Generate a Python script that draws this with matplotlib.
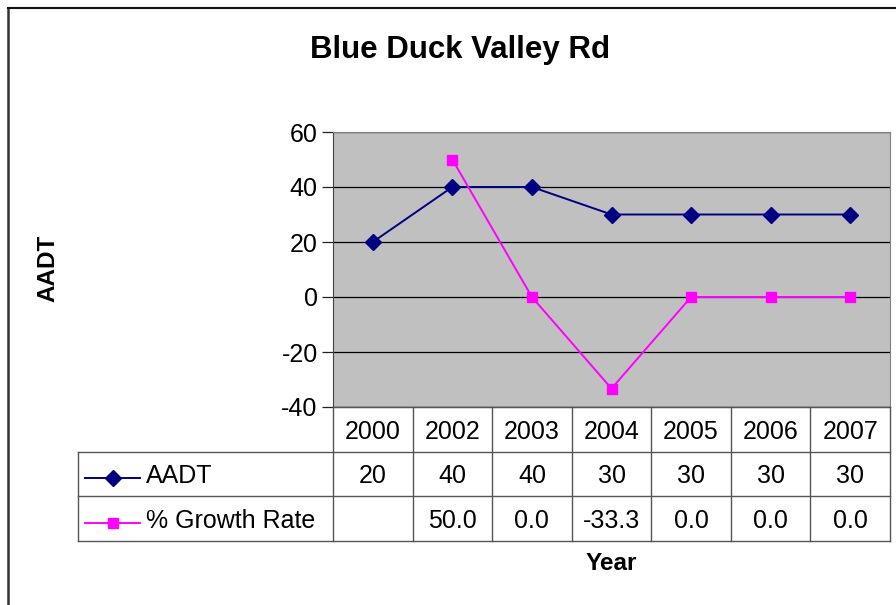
import numpy as np
import matplotlib
matplotlib.use('Agg')
import matplotlib.pyplot as plt
from matplotlib.lines import Line2D

plt.rcParams['font.family'] = ['Liberation Sans', 'DejaVu Sans']
plt.rcParams['axes.unicode_minus'] = False

years = ['2000', '2002', '2003', '2004', '2005', '2006', '2007']
aadt = [20, 40, 40, 30, 30, 30, 30]
growth = [np.nan, 50.0, 0.0, -33.3, 0.0, 0.0, 0.0]
series_names = ['AADT', '% Growth Rate']

W, H = 896, 605
fig = plt.figure(figsize=(W / 100, H / 100), dpi=100)
fig.patch.set_facecolor('white')

def fx(px):
    return px / W

def fy(py):
    return 1 - py / H

# outer chart border (only left and top visible)
fig.add_artist(Line2D([fx(8), fx(8)], [fy(8), 0], color='#333333', lw=1.8))
fig.add_artist(Line2D([fx(8), 1], [fy(8), fy(8)], color='#111111', lw=1.5))

# ── plot area ─────────────────────────────────────────────────────────────
x0, x1 = 333, 890
ytop, ybot = 132, 407
ax = fig.add_axes([fx(x0), fy(ybot), fx(x1) - fx(x0), fy(ytop) - fy(ybot)])
ax.set_facecolor('#C0C0C0')
x = np.arange(len(years))
ax.set_xlim(-0.5, len(years) - 0.5)
ax.set_ylim(-40, 60)
ax.set_yticks(range(-40, 61, 20))
ax.yaxis.grid(True, color='black', lw=0.9)
ax.set_axisbelow(True)
ax.set_xticks([])
ax.tick_params(axis='y', direction='out', length=8, width=0.9, labelsize=18, pad=3,
               color='#222222')
for s in ['top', 'right']:
    ax.spines[s].set_color('#808080')
ax.spines['left'].set_color('#444444')
ax.spines['bottom'].set_color('#444444')

ax.plot(x, aadt, color='#000080', lw=1.4, marker='D', markersize=8, zorder=3)
ax.plot(x, growth, color='#FF00FF', lw=1.4, marker='s', markersize=7.5, zorder=3)

fig.text(fx(48), fy(268), 'AADT', fontsize=17.5, fontweight='bold',
         rotation=90, ha='center', va='center')
fig.text(fx(460), fy(50), 'Blue Duck Valley Rd', fontsize=22.5, fontweight='bold',
         ha='center', va='center')
fig.text(fx(611), fy(563), 'Year', fontsize=17.5, fontweight='bold',
         ha='center', va='center')

# ── data table ────────────────────────────────────────────────────────────
tl, tt, tb = 78, 407, 541
label_w = (x0 - tl) / ((x1 - x0) / len(years))
tax = fig.add_axes([fx(tl), fy(tb), fx(x1) - fx(tl), fy(tt) - fy(tb)])
tax.set_xlim(-0.5 - label_w, len(years) - 0.5)
tax.set_ylim(0, 3)
tax.axis('off')
lc = '#555555'
lw = 1.0
# horizontal lines
tax.plot([-0.5, len(years) - 0.5], [3, 3], color=lc, lw=lw, clip_on=False)
for yy in [2, 1, 0]:
    tax.plot([-0.5 - label_w, len(years) - 0.5], [yy, yy], color=lc, lw=lw,
             clip_on=False)
# vertical lines
for i in range(len(years) + 1):
    tax.plot([i - 0.5, i - 0.5], [0, 3], color=lc, lw=lw, clip_on=False)
tax.plot([-0.5 - label_w] * 2, [0, 2], color=lc, lw=lw, clip_on=False)

dy = -0.05
for i, yr in enumerate(years):
    tax.text(i, 2.5 + dy, yr, ha='center', va='center', fontsize=18)
    tax.text(i, 1.5 + dy, f'{aadt[i]:g}', ha='center', va='center', fontsize=18)
    if not np.isnan(growth[i]):
        tax.text(i, 0.5 + dy, f'{growth[i]:.1f}', ha='center', va='center',
                 fontsize=18)

# legend keys in table
key_x0 = -0.5 - label_w + 0.09
key_x1 = key_x0 + 0.69
for row_y, name, col, mk, ms in [(1.5, series_names[0], '#000080', 'D', 8),
                                 (0.5, series_names[1], '#FF00FF', 's', 7.5)]:
    tax.plot([key_x0, key_x1], [row_y - 0.1, row_y - 0.1], color=col, lw=1.4,
             clip_on=False)
    tax.plot([(key_x0 + key_x1) / 2], [row_y - 0.1], color=col, marker=mk,
             markersize=ms, clip_on=False)
    tax.text(key_x1 + 0.07, row_y + dy, name, ha='left', va='center', fontsize=18)

fig.savefig('out.png', dpi=100, facecolor='white')
